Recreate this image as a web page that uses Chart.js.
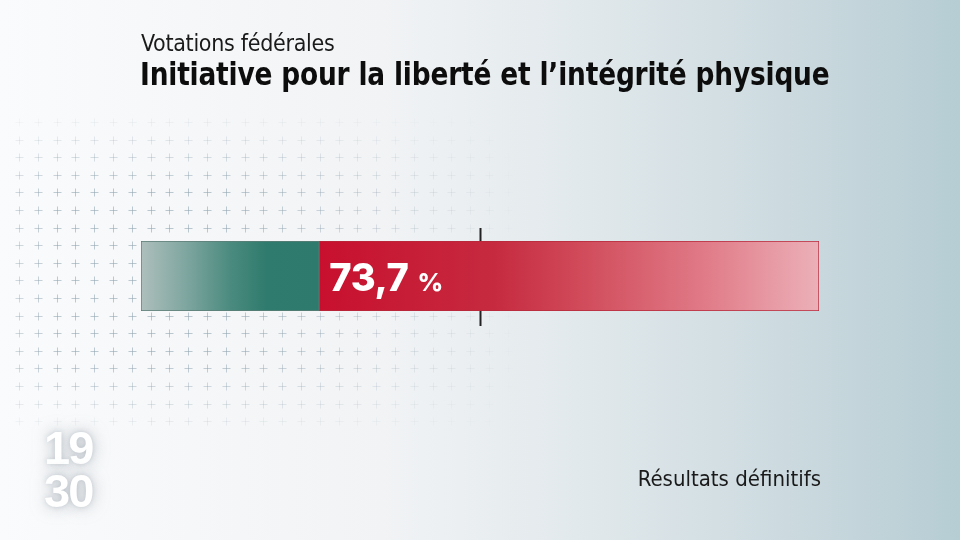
<!DOCTYPE html>
<html lang="fr">
<head>
<meta charset="utf-8">
<script src="https://cdn.jsdelivr.net/npm/chart.js@4.4.1/dist/chart.umd.min.js"></script>
<style>
  html, body { margin: 0; padding: 0; }
  body { width: 960px; height: 540px; overflow: hidden; position: relative; background: #f3f5f6; }
  #chart { position: absolute; left: 0; top: 0; }
  .txt { position: absolute; white-space: nowrap; color: #111; }
  #kicker { left: 141px; top: 30px; font: 300 23px "DejaVu Sans Condensed", sans-serif; letter-spacing: -0.3px; color: #1a1a1a; }
  #title { left: 140px; top: 55px; font: 700 32px "DejaVu Sans Condensed", sans-serif; letter-spacing: -0.2px;
           transform: scaleX(0.918); transform-origin: 0 0; color: #0d0d0d; }
  #status { right: 139px; top: 466px; font: 400 22px "DejaVu Sans Condensed", sans-serif; color: #1a1a1a; }
  #logo { left: 44px; top: 426px; font: 700 47px/43px "Liberation Sans", Arial, sans-serif; color: #fff; letter-spacing: -2px;
          text-shadow: 0 0 16px rgba(140,150,160,0.6), 0 0 5px rgba(160,170,180,0.45); }
  #pct { color: #fff; font: 800 38px "Inter", "Liberation Sans", sans-serif; letter-spacing: -0.3px; }
  #pct small { font-size: 25px; font-weight: 800; margin-left: 9px; }
</style>
</head>
<body>
<canvas id="chart" width="960" height="540"></canvas>
<div class="txt" id="kicker">Votations fédérales</div>
<div class="txt" id="title">Initiative pour la liberté et l’intégrité physique</div>
<div class="txt" id="status">Résultats définitifs</div>
<div class="txt" id="logo">19<br>30</div>
<div class="txt" id="pct"></div>
<script>
const categories = ['Initiative'];
const yesValues = [26.3];
const noValues = [73.7];
const majorityLine = 50;

const ctx = document.getElementById('chart').getContext('2d');
const pctLabel = document.getElementById('pct');

function barGradient(context, from, to, stops) {
  const chart = context.chart;
  if (!chart.chartArea) return stops[stops.length - 1][1];
  const x = chart.scales.x;
  const g = chart.ctx.createLinearGradient(x.getPixelForValue(from), 0, x.getPixelForValue(to), 0);
  stops.forEach(s => g.addColorStop(s[0], s[1]));
  return g;
}

// background: blue-grey gradient + fading plus grid
const backdrop = {
  id: 'backdrop',
  beforeDraw(chart) {
    const c = chart.ctx;
    const w = chart.width, h = chart.height;
    c.save();
    const g = c.createLinearGradient(0, 0, w, 0);
    g.addColorStop(0, '#fafbfc');
    g.addColorStop(0.4, '#f1f3f5');
    g.addColorStop(0.6, '#e2e9ec');
    g.addColorStop(0.82, '#ccdadf');
    g.addColorStop(1, '#b6cdd4');
    c.fillStyle = g;
    c.fillRect(0, 0, w, h);

    c.strokeStyle = '#93a6b2';
    c.lineWidth = 1;
    for (let y = 122; y < 440; y += 17.6) {
      for (let x = 19; x < 540; x += 18.8) {
        let a = 1;
        if (x > 230) a *= Math.max(0, 1 - (x - 230) / 290);
        if (y < 190) a *= Math.max(0, (y - 110) / 80);
        if (y > 360) a *= Math.max(0, 1 - (y - 360) / 80);
        if (x < 60) a *= 0.55 + 0.45 * (x / 60);
        const dl = Math.hypot(x - 75, y - 470);
        if (dl < 80) a *= dl / 80;
        if (a <= 0.02) continue;
        c.globalAlpha = a * 0.6;
        const px = Math.round(x) + 0.5, py = Math.round(y) + 0.5;
        c.beginPath();
        c.moveTo(px - 4, py); c.lineTo(px + 4, py);
        c.moveTo(px, py - 4); c.lineTo(px, py + 4);
        c.stroke();
      }
    }
    c.restore();
  }
};

// centre tick at 50 % and the percentage label
const overlay = {
  id: 'overlay',
  afterDatasetsDraw(chart) {
    const x = chart.scales.x;
    const area = chart.chartArea;
    const c = chart.ctx;
    const px = Math.round(x.getPixelForValue(majorityLine)) + 0.5;
    c.save();
    c.strokeStyle = '#222';
    c.lineWidth = 2;
    c.beginPath();
    c.moveTo(px, area.top - 13);
    c.lineTo(px, area.top);
    c.moveTo(px, area.bottom);
    c.lineTo(px, area.bottom + 15);
    c.stroke();
    c.restore();
  },
  afterDraw(chart) {
    const x = chart.scales.x;
    const area = chart.chartArea;
    pctLabel.innerHTML = noValues[0].toFixed(1).replace('.', ',') + '<small>%</small>';
    pctLabel.style.left = (x.getPixelForValue(yesValues[0]) + 10) + 'px';
    pctLabel.style.top = ((area.top + area.bottom) / 2 - pctLabel.offsetHeight / 2 + 1) + 'px';
  }
};

new Chart(ctx, {
  type: 'bar',
  data: {
    labels: categories,
    datasets: [
      {
        label: 'Oui',
        data: yesValues,
        backgroundColor: (context) => barGradient(context, 0, yesValues[0], [
          [0, '#aebfbc'], [0.25, '#7fa6a0'], [0.5, '#4b8b7f'], [0.7, '#2f7b6d'], [1, '#2e7a6c']
        ]),
        borderColor: '#5d7d76',
        borderWidth: 1,
        borderSkipped: false
      },
      {
        label: 'Non',
        data: noValues,
        backgroundColor: (context) => barGradient(context, yesValues[0], 100, [
          [0, '#c8102e'], [0.35, '#c62a3f'], [0.55, '#d2505f'], [0.75, '#df7683'], [1, '#ecb0b8']
        ]),
        borderColor: '#b52a3c',
        borderWidth: 1,
        borderSkipped: false
      }
    ]
  },
  options: {
    indexAxis: 'y',
    responsive: false,
    animation: false,
    devicePixelRatio: 1,
    layout: { padding: { left: 141, right: 141, top: 241, bottom: 229 } },
    datasets: { bar: { barPercentage: 1, categoryPercentage: 1 } },
    scales: {
      x: { stacked: true, min: 0, max: 100, display: false },
      y: { stacked: true, display: false }
    },
    plugins: {
      legend: { display: false },
      tooltip: { enabled: false },
      title: { display: false }
    }
  },
  plugins: [backdrop, overlay]
});
</script>
</body>
</html>
